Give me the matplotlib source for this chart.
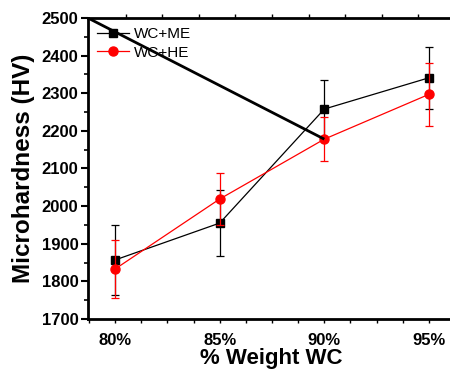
import matplotlib
matplotlib.use("Agg")
import matplotlib.pyplot as plt
from matplotlib.lines import Line2D
import numpy as np

plt.rcParams['font.family'] = ['Liberation Sans', 'DejaVu Sans']

categories = ["80%", "85%", "90%", "95%"]
me_values = [1857, 1955, 2258, 2341]
me_errors = [93, 88, 76, 83]
he_values = [1833, 2019, 2178, 2297]
he_errors = [78, 68, 59, 83]
# thick straight line present in the original figure
extra_x = [-0.26, 2.0]
extra_y = [2500, 2178]

fig = plt.figure(figsize=(4.5, 3.73), dpi=100)
ax = fig.add_axes([88/450, 1-319/373, (455-88)/450, (319-18)/373])

x = np.arange(len(categories))

ax.errorbar(x, me_values, yerr=me_errors, color='black', marker='s', markersize=5.5,
            linewidth=0.9, elinewidth=0.9, capsize=3, capthick=0.9, zorder=3)
ax.errorbar(x, he_values, yerr=he_errors, color='red', ecolor='red', marker='o', markersize=6.5,
            linewidth=0.9, elinewidth=0.9, capsize=3, capthick=0.9, zorder=4)
ax.plot(extra_x, extra_y, color='black', linewidth=2, zorder=5, solid_capstyle='butt')

ax.set_xlim(-0.26, 3.25)
ax.set_ylim(1700, 2500)
ax.set_xticks(x)
ax.set_xticklabels(categories)
ax.set_xticks(np.arange(-0.25, 3.3, 0.25), minor=True)
ax.set_yticks(np.arange(1700, 2501, 100))
ax.set_yticks(np.arange(1750, 2500, 100), minor=True)

for lab in ax.get_xticklabels() + ax.get_yticklabels():
    lab.set_fontweight('bold')
    lab.set_fontsize(12)

ax.tick_params(axis='y', which='major', direction='out', length=5, width=1.5, pad=2)
ax.tick_params(axis='y', which='minor', direction='out', length=3, width=1.2)
ax.tick_params(axis='x', which='major', direction='out', length=3, width=1, pad=7)
ax.tick_params(axis='x', which='minor', direction='out', length=3, width=1)

for s in ['left', 'bottom', 'top']:
    ax.spines[s].set_linewidth(2)
ax.spines['right'].set_visible(False)

ax2 = ax.twiny()
ax2.set_xlim(ax.get_xlim())
ax2.set_xticks(np.arange(0.1, 3.3, 0.35))
ax2.set_xticklabels([])
ax2.tick_params(axis='x', direction='out', length=3, width=1)
for s in ax2.spines.values():
    s.set_visible(False)

ax.set_xlabel('% Weight WC', fontsize=16, fontweight='bold', labelpad=0)
ax.set_ylabel('Microhardness (HV)', fontsize=17.5, fontweight='bold', labelpad=5)

handles = [Line2D([], [], color='black', marker='s', markersize=5.5, linewidth=0.9),
           Line2D([], [], color='red', marker='o', markersize=6.5, linewidth=0.9)]
ax.legend(handles, ['WC+ME', 'WC+HE'], loc='upper left', frameon=False, fontsize=11,
          handlelength=2.1, borderaxespad=0.2, handletextpad=0.3, labelspacing=0.3,
          bbox_to_anchor=(0.0, 1.0))

fig.savefig('out.png', dpi=100)
